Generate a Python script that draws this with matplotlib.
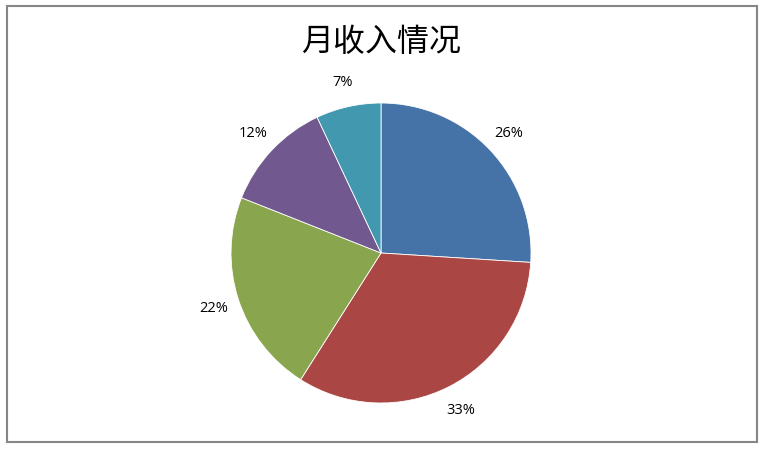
import matplotlib
matplotlib.use('Agg')
from matplotlib import pyplot as plt
from matplotlib.patches import Rectangle

plt.rcParams['font.family'] = ['Noto Sans CJK SC', 'DejaVu Sans']

title = '月收入情况'
shares = [26, 33, 22, 12, 7]
colors = ['#4572A7', '#AA4643', '#89A54E', '#71588F', '#4198AF']

fig = plt.figure(figsize=(7.65, 4.52), dpi=100)

# outer chart border
fig.patches.append(Rectangle((7 / 765, 9 / 452), 750 / 765, 436 / 452,
                             transform=fig.transFigure, fill=False,
                             edgecolor='#868686', linewidth=1.5))

fig.text(381 / 765, 1 - 42 / 452, title, ha='center', va='center',
         fontsize=23, fontweight='medium', color='black')

ax = fig.add_axes([(381 - 150) / 765, (452 - 254 - 150) / 452, 300 / 765, 300 / 452])
wedges, texts, autotexts = ax.pie(shares, colors=colors, startangle=90, counterclock=False,
                                  autopct='%d%%', pctdistance=1.17, radius=1,
                                  wedgeprops=dict(edgecolor='white', linewidth=0.6),
                                  textprops=dict(fontsize=10.5, family=['Open Sans', 'DejaVu Sans']))
ax.set_xlim(-1, 1)
ax.set_ylim(-1, 1)
ax.set_aspect('equal')
ax.axis('off')

fig.savefig('out.png', dpi=100)
